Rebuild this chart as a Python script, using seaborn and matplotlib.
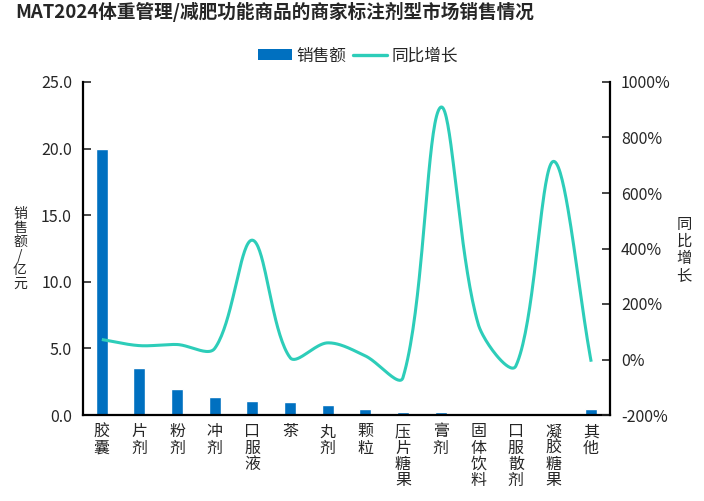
import numpy as np
import pandas as pd
import matplotlib
matplotlib.use("Agg")
import matplotlib.pyplot as plt
import seaborn as sns
from matplotlib.patches import Patch
from matplotlib.lines import Line2D

categories = ["胶囊", "片剂", "粉剂", "冲剂", "口服液", "茶", "丸剂", "颗粒",
              "压片糖果", "膏剂", "固体饮料", "口服散剂", "凝胶糖果", "其他"]
sales = [20.0, 3.55, 1.95, 1.35, 1.05, 0.98, 0.75, 0.45, 0.25, 0.25, 0.1, 0.1, 0.02, 0.45]
growth = [72, 50, 54, 40, 430, 7, 60, 13, -65, 909, 127, -23, 714, -8]

bar_color = "#0070C0"
line_color = "#2DCDB9"

sns.set_theme(style="white")
plt.rcParams["font.family"] = ["Noto Sans CJK SC", "DejaVu Sans"]

fig = plt.figure(figsize=(7.04, 5.01), dpi=100)
ax = fig.add_axes([83/704, 1-415/501, (610-83)/704, (415-82)/501])

df = pd.DataFrame({"cat": categories, "sales": sales})
sns.barplot(data=df, x="cat", y="sales", color=bar_color, width=0.32,
            saturation=1, ax=ax)
ax.set_xlim(-0.5, len(categories) - 0.5)
ax.set_ylim(0, 25)
ax.set_yticks(np.arange(0, 25.1, 5))
ax.set_yticklabels([f"{v:.1f}" for v in np.arange(0, 25.1, 5)], fontsize=11.5)
ax.set_xticks(range(len(categories)))
ax.set_xticklabels(["\n".join(c) for c in categories], fontsize=11.5,
                   va="top", linespacing=0.95)
ax.set_xlabel("")
ax.set_ylabel("")
ax.tick_params(axis="y", direction="in", length=6, width=1.2, pad=8, left=True)
ax.tick_params(axis="x", length=0, pad=6)

# smoothed line (Bezier with segment-length-weighted tangents, in screen-like units)
ax2 = ax.twinx()
x = np.arange(len(growth), dtype=float)
y = np.array(growth, dtype=float)
yscale = 27.7 / 100 / 37.6   # % -> category-width units
P = np.column_stack([x, y * yscale])
n = len(P)
tan_prev = np.zeros_like(P)
tan_next = np.zeros_like(P)
f = 1 / 3
for i in range(n):
    p0 = P[max(i - 1, 0)]
    p2 = P[min(i + 1, n - 1)]
    d = p2 - p0
    d01 = np.linalg.norm(P[i] - p0)
    d12 = np.linalg.norm(p2 - P[i])
    tot = d01 + d12 if d01 + d12 > 0 else 1
    tan_prev[i] = d * d01 / tot * f
    tan_next[i] = d * d12 / tot * f
xs, ys = [], []
t = np.linspace(0, 1, 40)[:, None]
for i in range(n - 1):
    p1, p2 = P[i], P[i + 1]
    c1 = p1 + tan_next[i]
    c2 = p2 - tan_prev[i + 1]
    seg = ((1-t)**3)*p1 + 3*((1-t)**2)*t*c1 + 3*(1-t)*(t**2)*c2 + (t**3)*p2
    xs.extend(seg[:, 0]); ys.extend(seg[:, 1] / yscale)
ax2.plot(xs, ys, color=line_color, lw=2.2, solid_capstyle="butt")
ax2.set_ylim(-200, 1000)
ax2.set_yticks(np.arange(-200, 1001, 200))
ax2.set_yticklabels([f"{v}%" for v in range(-200, 1001, 200)], fontsize=11.5)
ax2.tick_params(axis="y", direction="in", length=6, width=1.2, pad=8, right=True)

for a in (ax, ax2):
    for s in a.spines.values():
        s.set_visible(False)
    a.grid(False)
ax.spines["left"].set_visible(True)
ax.spines["bottom"].set_visible(True)
ax2.spines["right"].set_visible(True)
for s in (ax.spines["left"], ax.spines["bottom"], ax2.spines["right"]):
    s.set_color("black")
    s.set_linewidth(1.6)

fig.text(20/704, 1-249/501, "\n".join("销售额/亿元"),
         ha="center", va="center", fontsize=10, linespacing=1.0)
fig.text(684/704, 1-250/501, "\n".join("同比增长"),
         ha="center", va="center", fontsize=11, linespacing=0.98)

fig.text(15/704, 1-12/501, "MAT2024体重管理/减肥功能商品的商家标注剂型市场销售情况",
         ha="left", va="center", fontsize=13.4, fontweight="bold")

handles = [Patch(facecolor=bar_color, edgecolor="none", label="销售额"),
           Line2D([0], [0], color=line_color, lw=2.4, label="同比增长")]
fig.legend(handles=handles, loc="center", bbox_to_anchor=(358/704, 1-56/501),
           ncol=2, frameon=False, fontsize=12, handlelength=2.05,
           handleheight=0.65, columnspacing=0.36, handletextpad=0.3,
           borderpad=0, borderaxespad=0)

fig.savefig("out.png", dpi=100)
